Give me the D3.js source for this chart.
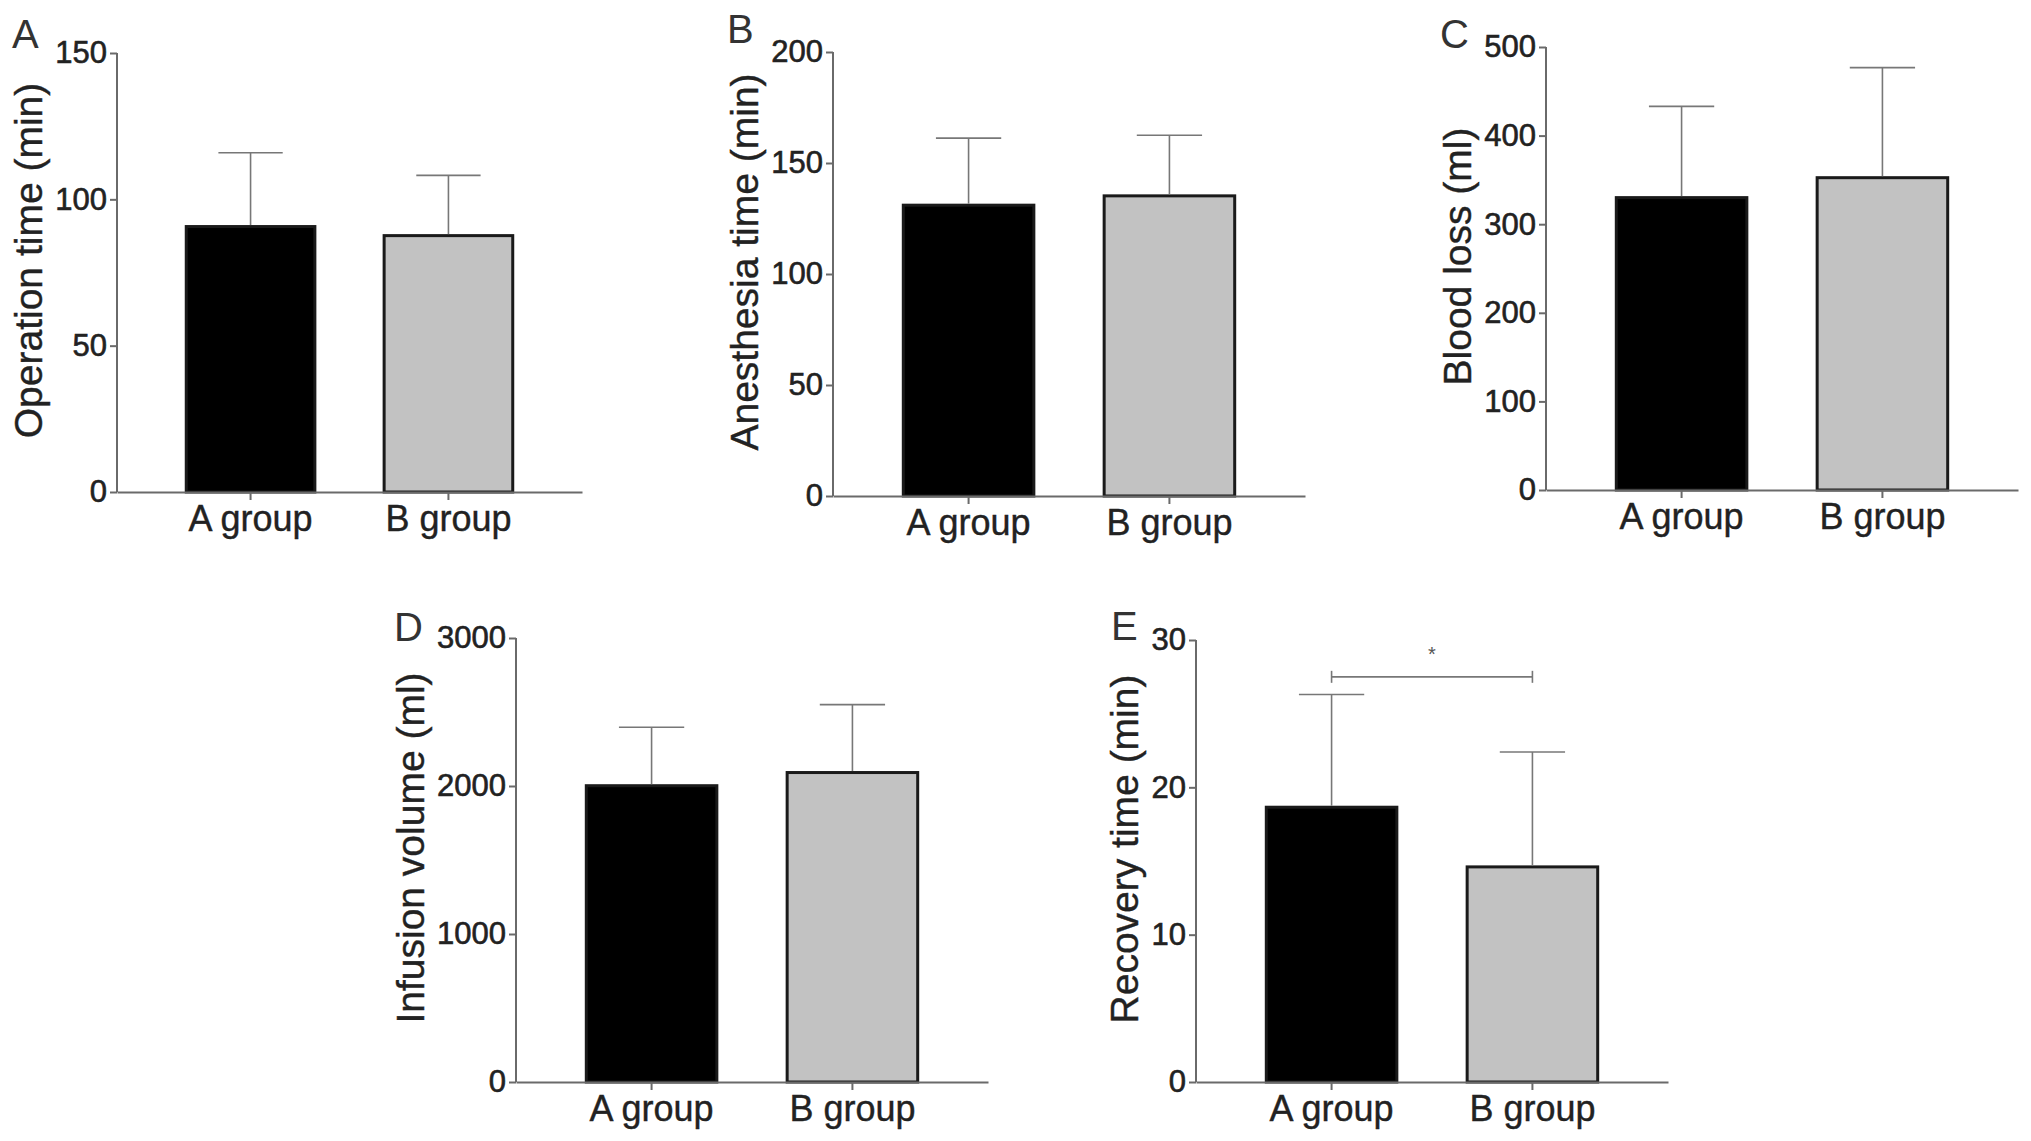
<!DOCTYPE html>
<html>
<head>
<meta charset="utf-8">
<style>
    body { margin: 0; background: #fff; }
    text { font-family: "Liberation Sans", Arial, sans-serif; fill: #222; }
    .axis path, .axis line { stroke: #6a6a6a; stroke-width: 2; }
    .axis text { font-size: 31px; fill: #222; stroke: #222; stroke-width: 0.6; }
    .err { stroke: #777; stroke-width: 1.6; fill: none; }
    .title { stroke: #222; stroke-width: 0.4; }
</style>
</head>
<body>
<svg id="container" width="2031" height="1141"></svg>
<script src="https://cdn.jsdelivr.net/npm/d3@7"></script>
<script>
    // groups and values
    let groups = ["A group", "B group"]

    let operationMean = [90.7, 87.6]
    let operationSD = [25.2, 20.6]

    let anesthesiaMean = [131.0, 135.2]
    let anesthesiaSD = [30.2, 27.3]

    let bloodMean = [330, 352.5]
    let bloodSD = [103, 124.2]

    let infusionMean = [2002, 2091]
    let infusionSD = [395, 459]

    let recoveryMean = [18.65, 14.6]
    let recoverySD = [7.65, 7.8]

    let operationTicks = [0, 50, 100, 150]
    let anesthesiaTicks = [0, 50, 100, 150, 200]
    let bloodTicks = [0, 100, 200, 300, 400, 500]
    let infusionTicks = [0, 1000, 2000, 3000]
    let recoveryTicks = [0, 10, 20, 30]

    let barFill = ["#000000", "#c2c2c2"]

    let svg = d3.select("#container")

    let panels = [
        { letter: "A", title: "Operation time (min)", mean: operationMean, sd: operationSD, ticks: operationTicks,
          x0: 117, w: 465, top: 53, bottom: 492, lx: 12, ly: 48 },
        { letter: "B", title: "Anesthesia time (min)", mean: anesthesiaMean, sd: anesthesiaSD, ticks: anesthesiaTicks,
          x0: 833, w: 472, top: 52, bottom: 496, lx: 727, ly: 43 },
        { letter: "C", title: "Blood loss (ml)", mean: bloodMean, sd: bloodSD, ticks: bloodTicks,
          x0: 1546, w: 472, top: 47, bottom: 490, lx: 1440, ly: 48 },
        { letter: "D", title: "Infusion volume (ml)", mean: infusionMean, sd: infusionSD, ticks: infusionTicks,
          x0: 516, w: 472, top: 638, bottom: 1082, lx: 394, ly: 641 },
        { letter: "E", title: "Recovery time (min)", mean: recoveryMean, sd: recoverySD, ticks: recoveryTicks,
          x0: 1196, w: 472, top: 640, bottom: 1082, lx: 1111, ly: 640, sig: true }
    ]

    panels.forEach(drawPanel)

    function drawPanel(p) {
        let g = svg.append("g").attr("transform", `translate(${p.x0},0)`)

        let x = d3.scaleBand()
            .domain(groups)
            .range([0, p.w])
            .paddingInner(0.35)
            .paddingOuter(0.35)

        let y = d3.scaleLinear()
            .domain([0, d3.max(p.ticks)])
            .range([p.bottom, p.top])

        // bars
        g.selectAll("rect").data(groups)
            .enter().append("rect")
            .attr("x", d => x(d))
            .attr("width", x.bandwidth())
            .attr("y", (d, i) => y(p.mean[i]))
            .attr("height", (d, i) => y(0) - y(p.mean[i]))
            .attr("fill", (d, i) => barFill[i])
            .attr("stroke", "#1a1a1a")
            .attr("stroke-width", 3)

        // upper error bars
        let capW = x.bandwidth() * 0.5
        groups.forEach((d, i) => {
            let cx = x(d) + x.bandwidth() / 2
            let yt = y(p.mean[i] + p.sd[i])
            g.append("line").attr("class", "err")
                .attr("x1", cx).attr("x2", cx)
                .attr("y1", y(p.mean[i]) - 1.5).attr("y2", yt)
            g.append("line").attr("class", "err")
                .attr("x1", cx - capW / 2).attr("x2", cx + capW / 2)
                .attr("y1", yt).attr("y2", yt)
        })

        // axes
        let yAxis = g.append("g").attr("class", "axis")
            .call(d3.axisLeft(y).tickValues(p.ticks).tickFormat(d3.format("d"))
                .tickSize(7).tickPadding(3).tickSizeOuter(0))
        yAxis.select(".domain").attr("d", `M0,${p.bottom}V${p.top}`)

        let xAxis = g.append("g").attr("class", "axis")
            .attr("transform", `translate(0,${p.bottom})`)
            .call(d3.axisBottom(x).tickSize(8).tickSizeOuter(0))
        xAxis.selectAll("text")
            .attr("y", 39).attr("dy", null)
            .style("font-size", "36px")
            .style("stroke-width", 0.4)

        // y title, placed left of the widest tick label
        let minX = d3.min(yAxis.selectAll("text").nodes(), n => n.getBBox().x)
        let cy = (p.top + p.bottom) / 2 - 12
        g.append("text")
            .attr("class", "title")
            .attr("transform", `translate(${minX - 27},${cy}) rotate(-90)`)
            .attr("text-anchor", "middle")
            .attr("dominant-baseline", "central")
            .style("font-size", "39px")
            .text(p.title)

        // panel letter
        svg.append("text")
            .attr("x", p.lx).attr("y", p.ly)
            .style("font-size", "40px")
            .style("fill", "#333")
            .text(p.letter)

        if (p.sig) {
            let xa = x(groups[0]) + x.bandwidth() / 2
            let xb = x(groups[1]) + x.bandwidth() / 2
            let ys = y(27.5)
            g.append("line").attr("class", "err")
                .attr("x1", xa).attr("x2", xb).attr("y1", ys).attr("y2", ys)
            g.append("line").attr("class", "err")
                .attr("x1", xa).attr("x2", xa).attr("y1", ys - 6).attr("y2", ys + 6)
            g.append("line").attr("class", "err")
                .attr("x1", xb).attr("x2", xb).attr("y1", ys - 6).attr("y2", ys + 6)
            g.append("text")
                .attr("x", (xa + xb) / 2).attr("y", y(28.6))
                .attr("text-anchor", "middle")
                .style("font-size", "20px").style("fill", "#555")
                .text("*")
        }
    }
</script>
</body>
</html>
